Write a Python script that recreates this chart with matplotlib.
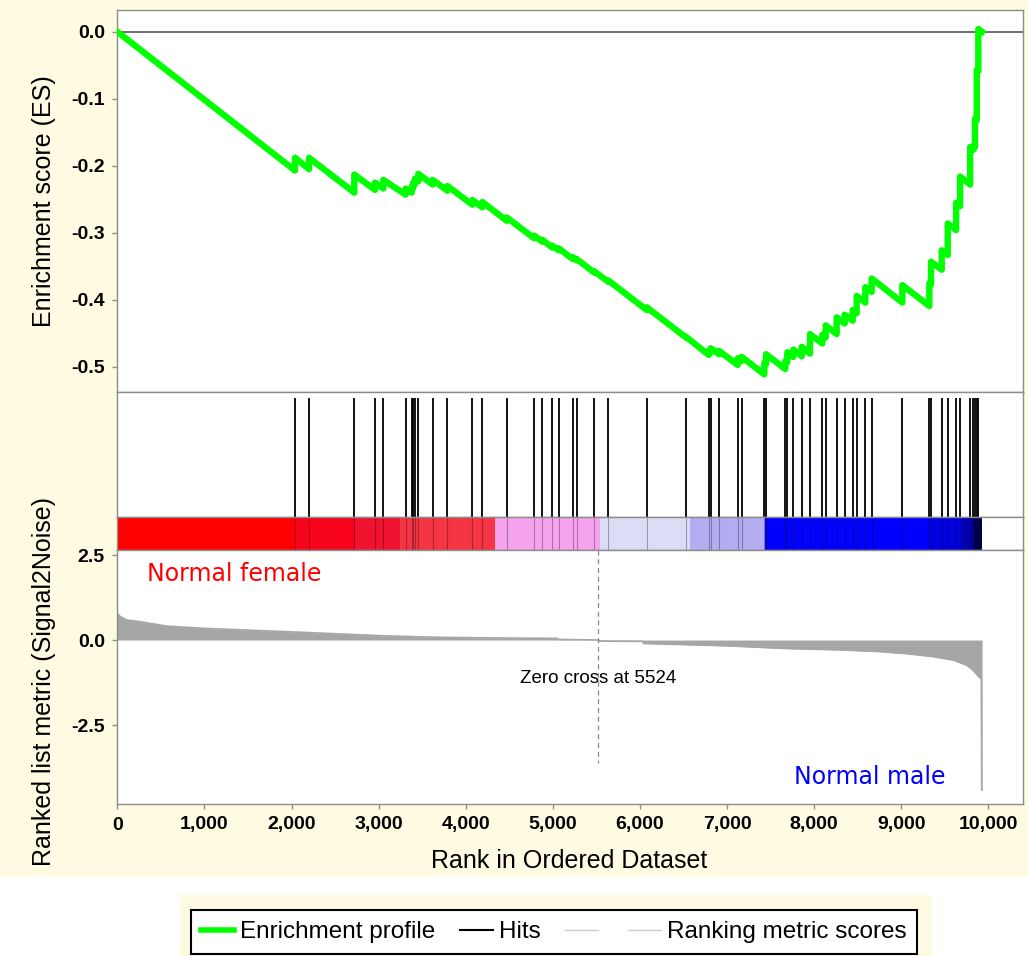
import matplotlib
matplotlib.use("Agg")
import matplotlib.pyplot as plt
from matplotlib.patches import Rectangle
from matplotlib.lines import Line2D

plt.rcParams['font.family'] = ['Liberation Sans', 'DejaVu Sans']
plt.rcParams['axes.unicode_minus'] = False

# ---------------- data ----------------
es_rank = [0,
           2040, 2040, 2201, 2201, 2721, 2721, 2959, 2959, 3054, 3054,
           3311, 3311, 3380, 3380, 3398, 3398, 3418, 3418, 3456, 3456,
           3621, 3621, 3789, 3789, 4076, 4076, 4191, 4191, 4471, 4471,
           4785, 4785, 4877, 4877, 4994, 4994, 5068, 5068, 5228, 5228,
           5274, 5274, 5473, 5473, 5637, 5637, 6078, 6078, 6529, 6529,
           6790, 6790, 6813, 6813, 6908, 6908, 7123, 7123, 7169, 7169,
           7428, 7428, 7448, 7448, 7669, 7669, 7692, 7692, 7761, 7761,
           7858, 7858, 7953, 7953, 8094, 8094, 8133, 8133, 8259, 8259,
           8351, 8351, 8443, 8443, 8489, 8489, 8588, 8588, 8661, 8661,
           9013, 9013, 9323, 9323, 9342, 9342, 9465, 9465, 9534, 9534,
           9630, 9630, 9676, 9676, 9791, 9791, 9829, 9829, 9847, 9847,
           9867, 9867, 9885, 9885,
           9928]
es_value = [0.0,
            -0.207, -0.188, -0.205, -0.188, -0.240, -0.213, -0.236, -0.225, -0.234, -0.221,
            -0.243, -0.234, -0.240, -0.231, -0.233, -0.225, -0.227, -0.219, -0.223, -0.212,
            -0.228, -0.221, -0.237, -0.230, -0.258, -0.251, -0.262, -0.254, -0.282, -0.277,
            -0.308, -0.304, -0.313, -0.310, -0.322, -0.319, -0.326, -0.323, -0.339, -0.336,
            -0.341, -0.339, -0.359, -0.357, -0.373, -0.371, -0.415, -0.411, -0.456, -0.455,
            -0.482, -0.476, -0.478, -0.472, -0.481, -0.476, -0.497, -0.487, -0.491, -0.485,
            -0.511, -0.494, -0.496, -0.481, -0.503, -0.491, -0.493, -0.478, -0.485, -0.474,
            -0.484, -0.470, -0.480, -0.451, -0.465, -0.452, -0.456, -0.438, -0.451, -0.426,
            -0.435, -0.422, -0.431, -0.415, -0.420, -0.394, -0.404, -0.381, -0.388, -0.368,
            -0.404, -0.378, -0.409, -0.375, -0.377, -0.343, -0.355, -0.326, -0.333, -0.286,
            -0.296, -0.255, -0.260, -0.216, -0.228, -0.172, -0.176, -0.170, -0.172, -0.130,
            -0.132, -0.057, -0.059, 0.004,
            0.0]

hits = [2040, 2201, 2721, 2959, 3054, 3311, 3380, 3398, 3418, 3456, 3621, 3789,
        4076, 4191, 4471, 4785, 4877, 4994, 5068, 5228, 5274, 5473, 5637, 6078,
        6529, 6790, 6813, 6908, 7123, 7169, 7428, 7448, 7669, 7692, 7761, 7858,
        7953, 8094, 8133, 8259, 8351, 8443, 8489, 8588, 8661, 9013, 9323, 9342,
        9465, 9534, 9630, 9676, 9791, 9829, 9847, 9867, 9885]

metric_rank = [0, 30, 108, 260, 567, 1026, 1715, 2232, 3093, 3700, 4394, 5050, 5060,
               5524, 5530, 6036, 6040, 6997, 7685, 8297, 8757, 9101, 9369, 9598,
               9752, 9830, 9880, 9920, 9924, 9928]
metric_value = [0.78, 0.70, 0.59, 0.54, 0.41, 0.34, 0.27, 0.215, 0.12, 0.08, 0.06, 0.05, 0.02,
                0.0, -0.03, -0.04, -0.10, -0.17, -0.25, -0.29, -0.34, -0.41, -0.49, -0.59,
                -0.74, -0.90, -1.05, -1.15, -4.41, -4.41]

bar_edges = [0, 2040, 2730, 3245, 4335, 5540, 6575, 7437, 9350, 9700, 9830, 9928]
bar_colors = ['#ff0000', '#f7031c', '#f0122e', '#f53444', '#f6a3ee', '#dcdcf6',
              '#b5adf1', '#0000ff', '#0000e2', '#0000b0', '#000050']

zero_cross = 5524
es_ticks = [0.0, -0.1, -0.2, -0.3, -0.4, -0.5]
es_ticklabels = ['0.0', '-0.1', '-0.2', '-0.3', '-0.4', '-0.5']
metric_ticks = [2.5, 0.0, -2.5]
metric_ticklabels = ['2.5', '0.0', '-2.5']
rank_ticks = [0, 1000, 2000, 3000, 4000, 5000, 6000, 7000, 8000, 9000, 10000]
rank_ticklabels = ['0', '1,000', '2,000', '3,000', '4,000', '5,000', '6,000',
                   '7,000', '8,000', '9,000', '10,000']

# ---------------- layout ----------------
W, H = 1028, 956
fig = plt.figure(figsize=(W / 100, H / 100), dpi=100, facecolor='white')

def fx(px):
    return px / W

def fy(py):
    return 1 - py / H

cream = '#fffbe3'
fig.patches.append(Rectangle((0, fy(877)), 1, 1 - fy(877), transform=fig.transFigure,
                             facecolor=cream, edgecolor='none', zorder=-10))
fig.patches.append(Rectangle((fx(180), 0), fx(932) - fx(180), fy(895), transform=fig.transFigure,
                             facecolor=cream, edgecolor='none', zorder=-10))

L = fx(117.3)
R = fx(1023)
AW = R - L
XMAX = 10398
spine_c = '#8c8c8c'

ax_es = fig.add_axes([L, fy(392), AW, (392 - 10) / H])
ax_hits = fig.add_axes([L, fy(517), AW, (517 - 392) / H])
ax_bar = fig.add_axes([L, fy(550), AW, (550 - 517) / H])
ax_rank = fig.add_axes([L, fy(804), AW, (804 - 550) / H])

for ax in (ax_es, ax_hits, ax_bar, ax_rank):
    ax.set_xlim(0, XMAX)
    ax.set_facecolor('white')
    for s in ax.spines.values():
        s.set_color(spine_c)
        s.set_linewidth(1.0)
    ax.tick_params(direction='out', length=3.5, width=1, color=spine_c,
                   labelsize=14, pad=5.5)

# ES panel
ax_es.plot(es_rank, es_value, color='#00ff00', lw=4.6, zorder=3)
ax_es.axhline(0, color='#555555', lw=1.2, zorder=2)
ax_es.set_ylim(-0.5373, 0.0324)
ax_es.set_yticks(es_ticks)
ax_es.set_yticklabels(es_ticklabels, fontweight='bold')
ax_es.set_xticks([])

# hits panel
ax_hits.vlines(hits, 0, 0.952, color='black', lw=1.3)
ax_hits.set_ylim(0, 1)
ax_hits.set_xticks([])
ax_hits.set_yticks([])

# colour bar
for i, c in enumerate(bar_colors):
    ax_bar.axvspan(bar_edges[i], bar_edges[i + 1], color=c, lw=0)
ax_bar.vlines(hits, 0, 1, color='black', lw=0.8, alpha=0.3)
ax_bar.set_ylim(0, 1)
ax_bar.set_xticks([])
ax_bar.set_yticks([])

# ranked list metric panel
ax_rank.fill_between(metric_rank, metric_value, 0, color='#a6a6a6', lw=0)
ax_rank.plot(metric_rank, metric_value, color='#a6a6a6', lw=1.2)
ax_rank.set_ylim(-4.82, 2.647)
ax_rank.plot([zero_cross, zero_cross], [2.647, -3.6], color='#888888', lw=0.9,
             ls=(0, (4, 3)))
ax_rank.text(zero_cross, -1.12, 'Zero cross at %d' % zero_cross, ha='center', va='center',
             fontsize=13.5, color='black')
ax_rank.text(343, 1.94, 'Normal female', ha='left', va='center', color='#ff0000',
             fontsize=17, family=['DejaVu Sans'])
ax_rank.text(9503, -4.03, 'Normal male', ha='right', va='center', color='#0000ff',
             fontsize=17, family=['DejaVu Sans'])
ax_rank.set_yticks(metric_ticks)
ax_rank.set_yticklabels(metric_ticklabels, fontweight='bold')
ax_rank.set_xticks(rank_ticks)
ax_rank.set_xticklabels(rank_ticklabels, fontweight='bold')

# axis labels
fig.text(fx(44), fy(201), 'Enrichment score (ES)', rotation=90, ha='center', va='center',
         fontsize=18)
fig.text(fx(44), fy(681), 'Ranked list metric (Signal2Noise)', rotation=90, ha='center',
         va='center', fontsize=18)
fig.text(fx(569), fy(861), 'Rank in Ordered Dataset', ha='center', va='center', fontsize=18)

# legend
handles = [Line2D([], [], color='#00ff00', lw=4),
           Line2D([], [], color='black', lw=1.5),
           Line2D([], [], color='#cccccc', lw=1),
           Line2D([], [], color='#cccccc', lw=1)]
labels = ['Enrichment profile', 'Hits', '', 'Ranking metric scores']
leg = fig.legend(handles, labels, ncol=4, loc='center', bbox_to_anchor=(fx(554), fy(932)),
                 frameon=True, fancybox=False, edgecolor='black', facecolor='white',
                 framealpha=1, fontsize=17.5, handlelength=1.35, handletextpad=0.25,
                 columnspacing=1.0, borderpad=0.45, borderaxespad=0)
leg.get_frame().set_linewidth(1.5)

fig.savefig('out.png', dpi=100, facecolor=fig.get_facecolor())
